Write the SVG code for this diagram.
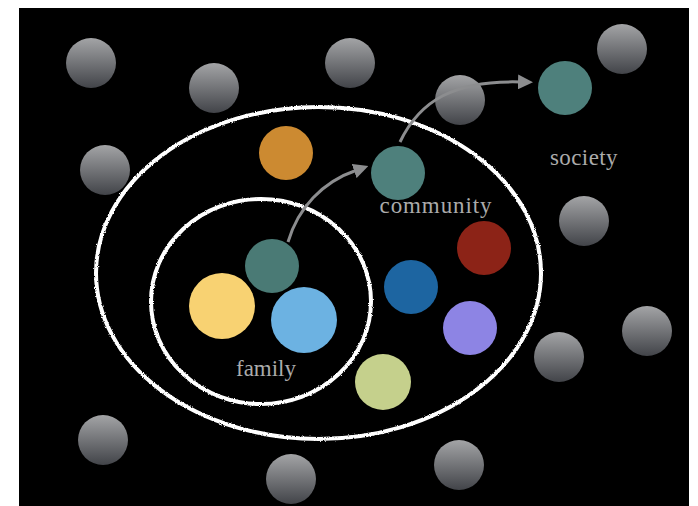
<svg xmlns="http://www.w3.org/2000/svg" width="698" height="506" viewBox="0 0 698 506">
  <defs>
    <linearGradient id="greyGrad" x1="0" y1="0" x2="0" y2="1">
      <stop offset="0" stop-color="#a3a4a6"/>
      <stop offset="1" stop-color="#424449"/>
    </linearGradient>
    <filter id="chalk" x="-5%" y="-5%" width="110%" height="110%">
      <feTurbulence type="fractalNoise" baseFrequency="1.1" numOctaves="2" seed="3" result="n"/>
      <feDisplacementMap in="SourceGraphic" in2="n" scale="2.6" xChannelSelector="R" yChannelSelector="G"/>
    </filter>
    <marker id="arrowHead" viewBox="0 0 10 10" refX="2" refY="5" markerWidth="5" markerHeight="5" markerUnits="strokeWidth" orient="auto">
      <path d="M0,0 L10,5 L0,10 Z" fill="#8c8d8f"/>
    </marker>
    <style>
      .grey { fill: url(#greyGrad); }
      .ring { fill: none; stroke: #ffffff; stroke-width: 4; filter: url(#chalk); }
      .label { font-family: "Liberation Serif", "Times New Roman", serif; font-size: 23px; fill: #ababab; }
      .conn { fill: none; stroke: #8c8d8f; stroke-width: 3; marker-end: url(#arrowHead); }
    </style>
  </defs>

  <rect x="19" y="8" width="670" height="498" fill="#000000"/>

  <g id="rings">
    <ellipse id="community-ring" class="ring" cx="318.5" cy="273" rx="222.5" ry="166"/>
    <ellipse id="family-ring" class="ring" cx="261" cy="301.5" rx="110" ry="102.5"/>
  </g>

  <g id="society-members">
    <g id="g1"><circle class="grey" cx="91" cy="63" r="25"/></g>
    <g id="g2"><circle class="grey" cx="214" cy="88" r="25"/></g>
    <g id="g3"><circle class="grey" cx="105" cy="170" r="25"/></g>
    <g id="g4"><circle class="grey" cx="350" cy="63" r="25"/></g>
    <g id="g5"><circle class="grey" cx="460" cy="100" r="25"/></g>
    <g id="g6"><circle class="grey" cx="622" cy="49" r="25"/></g>
    <g id="g7"><circle class="grey" cx="584" cy="221" r="25"/></g>
    <g id="g8"><circle class="grey" cx="647" cy="331" r="25"/></g>
    <g id="g9"><circle class="grey" cx="559" cy="357" r="25"/></g>
    <g id="g10"><circle class="grey" cx="103" cy="440" r="25"/></g>
    <g id="g11"><circle class="grey" cx="291" cy="479" r="25"/></g>
    <g id="g12"><circle class="grey" cx="459" cy="465" r="25"/></g>
  </g>

  <g id="community-members">
    <g id="orange"><circle cx="286" cy="153" r="27" fill="#cc8a31"/></g>
    <g id="blue"><circle cx="411" cy="287" r="27" fill="#1d65a1"/></g>
    <g id="red"><circle cx="484" cy="248" r="27" fill="#8c2317"/></g>
    <g id="purple"><circle cx="470" cy="328" r="27" fill="#8d84e4"/></g>
    <g id="green"><circle cx="383" cy="382" r="28" fill="#c5d08c"/></g>
  </g>

  <g id="family-members">
    <g id="yellow"><circle cx="222" cy="306" r="33" fill="#f8d272"/></g>
    <g id="lightblue"><circle cx="304" cy="320" r="33" fill="#6cb2e2"/></g>
  </g>

  <g id="teal-family"><circle cx="272" cy="266" r="27" fill="#4a7a75"/></g>
  <g id="teal-community"><circle cx="398" cy="173" r="27" fill="#4e807c"/></g>
  <g id="teal-society"><circle cx="565" cy="88" r="27" fill="#4e807c"/></g>

  <g id="connectors">
    <path class="conn" d="M288,242 C298,208 322,182 357,170"/>
    <path class="conn" d="M400,142 C420,100 455,80 521,82"/>
  </g>

  <g id="labels">
    <text class="label" x="436" y="213" text-anchor="middle" letter-spacing="0.9">community</text>
    <text class="label" x="584" y="165" text-anchor="middle" letter-spacing="0.4">society</text>
    <text class="label" x="266" y="376" text-anchor="middle">family</text>
  </g>
</svg>
